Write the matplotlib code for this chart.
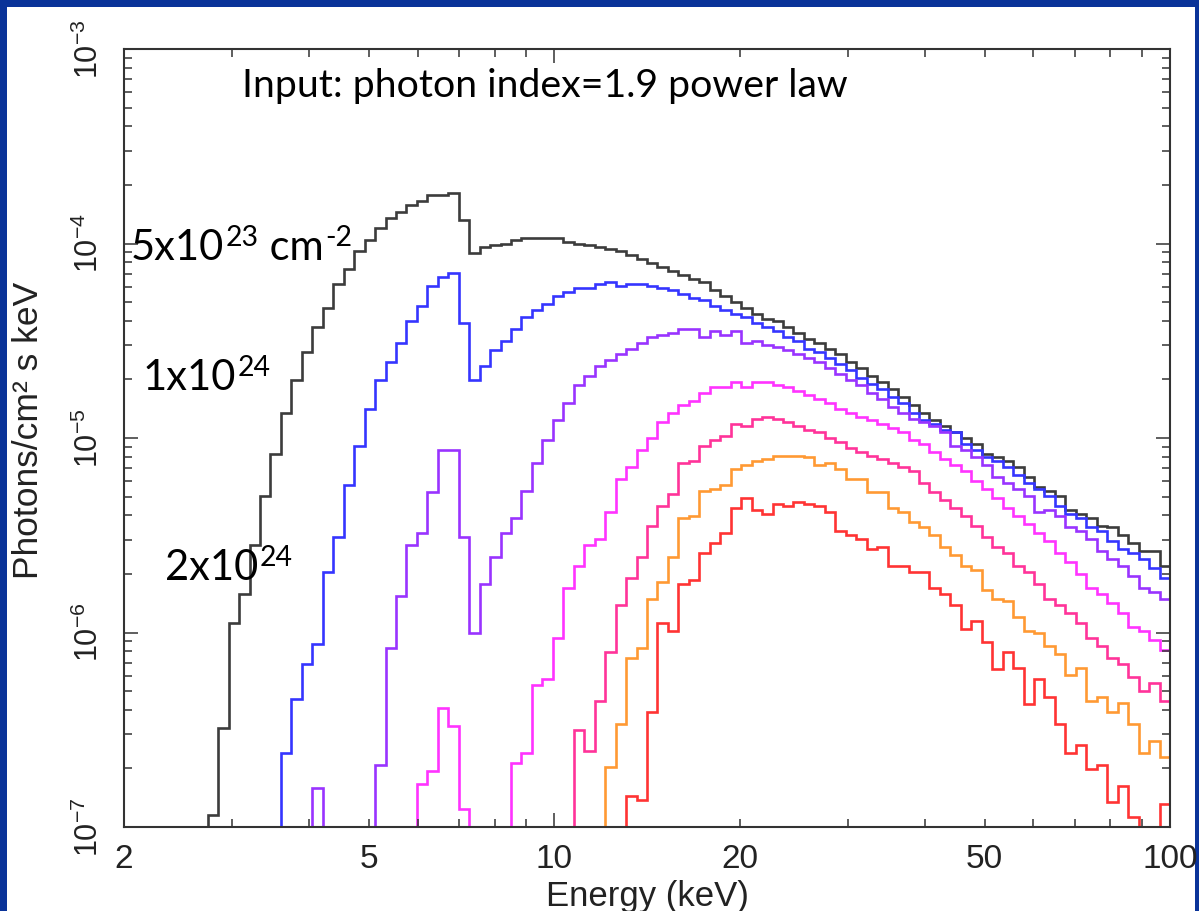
import numpy as np
import matplotlib
matplotlib.use("Agg")
import matplotlib.pyplot as plt
from matplotlib.patches import Rectangle
from matplotlib.ticker import FixedLocator, FuncFormatter, LogLocator, NullFormatter

plt.rcParams['font.family'] = ['Liberation Sans', 'DejaVu Sans']

# 100 logarithmic energy bins between 2 and 100 keV
bin_edges_kev = np.geomspace(2.0, 100.0, 101)

# log10(photons/cm2/s/keV) per bin; first bin index given by *_start
black_start = 8
black_log = [-6.94, -6.49, -5.95, -5.80, -5.55, -5.30, -5.08, -4.87, -4.70, -4.56,
             -4.43, -4.33, -4.21, -4.13, -4.04, -3.98, -3.92, -3.87, -3.84, -3.80,
             -3.78, -3.75, -3.75, -3.74, -3.88, -4.05, -4.02, -4.01, -4.00, -3.98,
             -3.97, -3.97, -3.97, -3.97, -3.99, -4.00, -4.01, -4.02, -4.03, -4.04,
             -4.06, -4.08, -4.10, -4.12, -4.14, -4.16, -4.18, -4.20, -4.24, -4.27,
             -4.30, -4.33, -4.36, -4.39, -4.40, -4.43, -4.46, -4.49, -4.51, -4.54,
             -4.57, -4.61, -4.64, -4.68, -4.71, -4.75, -4.79, -4.83, -4.87, -4.91,
             -4.94, -4.97, -5.00, -5.03, -5.08, -5.10, -5.12, -5.15, -5.20, -5.25,
             -5.27, -5.30, -5.37, -5.39, -5.41, -5.45, -5.46, -5.50, -5.54, -5.58,
             -5.58, -5.66]

blue_start = 15
blue_log = [-6.62, -6.34, -6.16, -6.06, -5.69, -5.51, -5.24, -5.04, -4.85, -4.70,
            -4.61, -4.51, -4.40, -4.32, -4.22, -4.17, -4.15, -4.41, -4.70, -4.63,
            -4.55, -4.50, -4.44, -4.38, -4.34, -4.31, -4.27, -4.25, -4.23, -4.23,
            -4.21, -4.20, -4.22, -4.21, -4.21, -4.22, -4.23, -4.24, -4.26, -4.28,
            -4.29, -4.32, -4.34, -4.36, -4.38, -4.41, -4.43, -4.45, -4.48, -4.50,
            -4.54, -4.56, -4.59, -4.62, -4.65, -4.69, -4.72, -4.75, -4.79, -4.82,
            -4.87, -4.91, -4.93, -4.96, -4.97, -5.03, -5.06, -5.10, -5.12, -5.15,
            -5.19, -5.23, -5.26, -5.30, -5.35, -5.39, -5.41, -5.46, -5.48, -5.53,
            -5.57, -5.59, -5.62, -5.67, -5.72]

purple_start = 18
purple_log = [-6.80, -8.00, -8.00, -8.00, -8.00, -7.02, -6.68, -6.08, -5.81, -5.55,
              -5.49, -5.28, -5.06, -5.06, -5.51, -6.00, -5.75, -5.61, -5.49, -5.41,
              -5.27, -5.13, -5.01, -4.91, -4.82, -4.73, -4.68, -4.63, -4.60, -4.57,
              -4.54, -4.51, -4.48, -4.47, -4.46, -4.44, -4.44, -4.48, -4.45, -4.47,
              -4.45, -4.51, -4.50, -4.52, -4.53, -4.55, -4.57, -4.59, -4.61, -4.64,
              -4.67, -4.70, -4.73, -4.77, -4.80, -4.84, -4.87, -4.90, -4.92, -4.94,
              -4.97, -5.04, -5.06, -5.10, -5.14, -5.20, -5.23, -5.26, -5.30, -5.38,
              -5.37, -5.40, -5.46, -5.48, -5.52, -5.58, -5.62, -5.66, -5.71, -5.77,
              -5.79, -5.83]

magenta_start = 28
magenta_log = [-6.78, -6.71, -6.39, -6.48, -6.91, -8.00, -8.00, -8.00, -8.00, -6.67,
               -6.62, -6.27, -6.24, -6.03, -5.77, -5.66, -5.55, -5.52, -5.38, -5.21,
               -5.15, -5.06, -5.00, -4.92, -4.87, -4.83, -4.81, -4.77, -4.74, -4.74,
               -4.71, -4.74, -4.71, -4.71, -4.73, -4.74, -4.76, -4.78, -4.80, -4.82,
               -4.85, -4.87, -4.89, -4.91, -4.93, -4.95, -4.97, -5.01, -5.03, -5.07,
               -5.11, -5.14, -5.17, -5.22, -5.26, -5.31, -5.36, -5.40, -5.44, -5.49,
               -5.53, -5.59, -5.64, -5.70, -5.77, -5.80, -5.85, -5.90, -5.97, -5.99,
               -6.04, -6.09]

pink_start = 43
pink_log = [-6.50, -6.61, -6.35, -6.10, -5.86, -5.72, -5.61, -5.45, -5.35, -5.29,
            -5.13, -5.12, -5.04, -5.01, -4.99, -4.93, -4.94, -4.90, -4.89, -4.90,
            -4.92, -4.94, -4.96, -4.97, -5.00, -5.02, -5.05, -5.07, -5.09, -5.11,
            -5.13, -5.15, -5.17, -5.23, -5.28, -5.32, -5.36, -5.40, -5.45, -5.51,
            -5.56, -5.59, -5.66, -5.69, -5.75, -5.83, -5.86, -5.90, -5.95, -6.03,
            -6.07, -6.13, -6.16, -6.23, -6.30, -6.26, -6.35]

orange_start = 46
orange_log = [-6.69, -6.47, -6.13, -6.08, -5.83, -5.74, -5.61, -5.41, -5.40, -5.27,
              -5.26, -5.24, -5.16, -5.14, -5.12, -5.11, -5.09, -5.09, -5.09, -5.10,
              -5.14, -5.13, -5.16, -5.21, -5.21, -5.28, -5.28, -5.36, -5.38, -5.43,
              -5.46, -5.50, -5.56, -5.60, -5.66, -5.68, -5.78, -5.83, -5.84, -5.92,
              -5.99, -6.00, -6.07, -6.11, -6.22, -6.18, -6.35, -6.33, -6.41, -6.36,
              -6.47, -6.62, -6.56, -6.64]

red_start = 48
red_log = [-6.84, -6.86, -6.41, -5.95, -5.99, -5.75, -5.73, -5.59, -5.54, -5.49,
           -5.36, -5.31, -5.37, -5.39, -5.34, -5.35, -5.33, -5.34, -5.35, -5.38,
           -5.48, -5.50, -5.52, -5.57, -5.56, -5.66, -5.66, -5.69, -5.69, -5.77,
           -5.80, -5.86, -5.98, -5.94, -6.05, -6.19, -6.10, -6.18, -6.37, -6.24,
           -6.33, -6.47, -6.62, -6.58, -6.70, -6.68, -6.87, -6.79, -6.95, -7.50,
           -7.50, -6.88]

curves = [
    (black_log, black_start, '#3c3c3c'),
    (blue_log, blue_start, '#3535ff'),
    (purple_log, purple_start, '#9933ff'),
    (magenta_log, magenta_start, '#ff33ff'),
    (pink_log, pink_start, '#ff3399'),
    (orange_log, orange_start, '#ff9933'),
    (red_log, red_start, '#ff3333'),
]

x_tick_values = [2, 5, 10, 20, 50, 100]
x_tick_labels = ['2', '5', '10', '20', '50', '100']

fig = plt.figure(figsize=(11.99, 9.11), dpi=100)
fig.patch.set_facecolor('#0a3399')
fig.patches.append(Rectangle((7 / 1199, 0), 1188 / 1199, 904 / 911,
                             transform=fig.transFigure, facecolor='white',
                             edgecolor='none', zorder=-5))

ax = fig.add_axes([124 / 1199, 84 / 911, 1046 / 1199, 778 / 911])
ax.set_facecolor('white')

for vals, start, color in curves:
    full = np.full(len(bin_edges_kev) - 1, 1e-9)
    full[start:start + len(vals)] = 10.0 ** np.array(vals)
    ax.stairs(full, bin_edges_kev, baseline=None, color=color, lw=1.9)

ax.set_xscale('log')
ax.set_yscale('log')
ax.set_xlim(2, 100)
ax.set_ylim(1e-7, 1e-3)

ax.xaxis.set_major_locator(FixedLocator(x_tick_values))
ax.xaxis.set_major_formatter(FuncFormatter(
    lambda v, p: x_tick_labels[x_tick_values.index(int(round(v)))] if int(round(v)) in x_tick_values else ''))
ax.xaxis.set_minor_locator(FixedLocator([3, 4, 6, 7, 8, 9, 30, 40, 60, 70, 80, 90]))
ax.xaxis.set_minor_formatter(NullFormatter())

ax.yaxis.set_major_locator(LogLocator(base=10, numticks=10))
ax.yaxis.set_minor_locator(LogLocator(base=10, subs=np.arange(2, 10), numticks=20))
ax.yaxis.set_minor_formatter(NullFormatter())
ax.yaxis.set_major_formatter(FuncFormatter(
    lambda v, p: r'$\mathregular{10^{%d}}$' % int(round(np.log10(v)))))

for side in ax.spines.values():
    side.set_color('#333333')
    side.set_linewidth(1.5)

ax.tick_params(which='both', direction='in', top=True, right=True,
               color='#333333', width=1.1, labelcolor='#222222')
ax.tick_params(axis='x', which='major', length=5.5, labelsize=24, pad=12)
ax.tick_params(axis='x', which='minor', length=5.5)
ax.tick_params(axis='y', which='major', length=10, labelsize=22, pad=14,
               labelrotation=90)
ax.tick_params(axis='y', which='minor', length=5.5)

fig.canvas.draw()
for tick in ax.xaxis.get_major_ticks():
    if int(round(tick.get_loc())) in (10, 100):
        tick.tick1line.set_markersize(10)
        tick.tick2line.set_markersize(10)
for lbl in ax.get_yticklabels():
    lbl.set_verticalalignment('center')

ax.set_xlabel('Energy (keV)', fontsize=25, color='#222222', labelpad=4)
ax.set_ylabel('Photons/cm² s keV', fontsize=25.5, color='#222222')
ax.yaxis.set_label_coords(-0.076, 0.51)

note_font = ['Lato', 'DejaVu Sans']
renderer = fig.canvas.get_renderer()


def chain_text(x_px, base_px, parts, size):
    # parts: list of (string, is_superscript); drawn left to right in pixel coords
    x = x_px
    for s, sup in parts:
        fs = size * 0.68 if sup else size
        y = base_px - (size * 0.33 * 100 / 72 if sup else 0)
        t = fig.text(x / 1199, 1 - y / 911, s, family=note_font, fontsize=fs,
                     ha='left', va='baseline')
        x = t.get_window_extent(renderer).x1 + 1


fig.text(242 / 1199, 1 - 97 / 911, 'Input: photon index=1.9 power law',
         family=note_font, fontsize=28.3, ha='left', va='baseline')
chain_text(131, 260, [('5x10', False), ('23', True), (' cm', False), ('-2', True)], 30)
chain_text(143, 390, [('1x10', False), ('24', True)], 30)
chain_text(165, 580, [('2x10', False), ('24', True)], 30)

fig.savefig('out.png', dpi=100, facecolor=fig.get_facecolor())
